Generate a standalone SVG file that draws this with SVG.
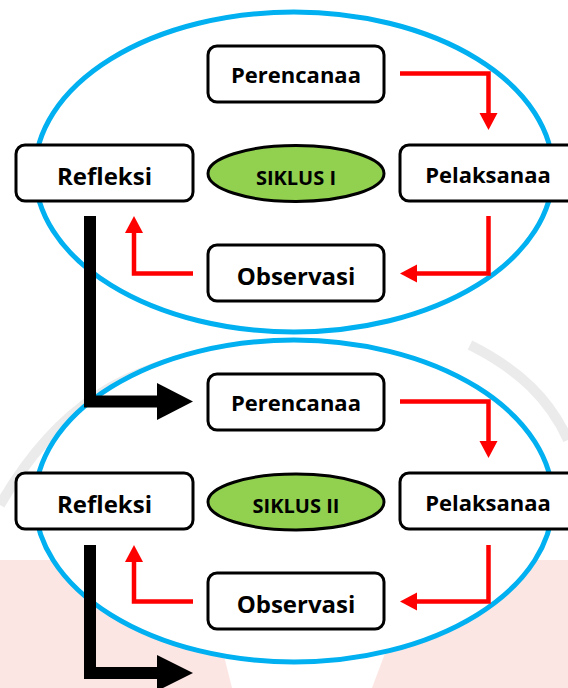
<svg xmlns="http://www.w3.org/2000/svg" width="568" height="688" viewBox="0 0 568 688">
  <style>
    .cycle { fill: #FFFFFF; stroke: #00B0F0; stroke-width: 5; }
    .box { fill: #FFFFFF; stroke: #000000; stroke-width: 3; }
    .hub { fill: #92D050; stroke: #000000; stroke-width: 3; }
    .lbl { font-family: "Open Sans", "Noto Sans", "Liberation Sans", sans-serif; font-weight: 700; fill: #000000; text-anchor: middle; }
    .red { fill: none; stroke: #FF0000; stroke-width: 4.5; stroke-linejoin: miter; }
    .redhead { fill: #FF0000; }
    .blk { fill: none; stroke: #000000; stroke-width: 12; stroke-linejoin: miter; }
    .blkhead { fill: #000000; }
  </style>
  <rect width="568" height="688" fill="#FFFFFF"/>
  <g id="watermark" opacity="0.5">
    <path d="M0,505 C60,400 130,370 200,355 M470,345 C520,370 550,400 568,440" fill="none" stroke="#D8D8D8" stroke-width="10"/>
    <polygon points="0,560 200,560 232,688 0,688" fill="#FBCFCB"/>
    <polygon points="372,688 420,560 568,560 568,688" fill="#FBCFCB"/>
  </g>
  <g id="cycle1"><ellipse class="cycle" cx="294" cy="172" rx="259" ry="160"/></g>
  <g id="cycle2"><ellipse class="cycle" cx="294" cy="501" rx="259" ry="161"/></g>

  <g id="perencanaan1"><rect class="box" x="208" y="46" width="176" height="56" rx="9"/><text class="lbl" x="296" y="83" font-size="22">Perencanaa</text></g>
  <g id="refleksi1"><rect class="box" x="16" y="145" width="177" height="56" rx="9"/><text class="lbl" x="104.5" y="185" font-size="24">Refleksi</text></g>
  <g id="siklus1"><ellipse class="hub" cx="296" cy="173.5" rx="88" ry="28"/><text class="lbl" x="296" y="185" font-size="20">SIKLUS I</text></g>
  <g id="pelaksanaan1"><rect class="box" x="400" y="145" width="185" height="56" rx="9"/><text class="lbl" x="488" y="183" font-size="22">Pelaksanaa</text></g>
  <g id="observasi1"><rect class="box" x="208" y="245" width="176" height="56" rx="9"/><text class="lbl" x="296" y="285" font-size="24">Observasi</text></g>

  <g id="perencanaan2"><rect class="box" x="208" y="374" width="176" height="56" rx="9"/><text class="lbl" x="296" y="411" font-size="22">Perencanaa</text></g>
  <g id="refleksi2"><rect class="box" x="16" y="473" width="177" height="56" rx="9"/><text class="lbl" x="104.5" y="513" font-size="24">Refleksi</text></g>
  <g id="siklus2"><ellipse class="hub" cx="296" cy="502" rx="88" ry="28"/><text class="lbl" x="296" y="513" font-size="20">SIKLUS II</text></g>
  <g id="pelaksanaan2"><rect class="box" x="400" y="473" width="185" height="56" rx="9"/><text class="lbl" x="488" y="511" font-size="22">Pelaksanaa</text></g>
  <g id="observasi2"><rect class="box" x="208" y="573" width="176" height="56" rx="9"/><text class="lbl" x="296" y="613" font-size="24">Observasi</text></g>

  <g id="connectors">
    <path class="red" d="M400,73.5 H488.5 V114"/>
    <polygon class="redhead" points="479.5,113 497.5,113 488.5,130"/>
    <path class="red" d="M488.5,216 V273.5 H416"/>
    <polygon class="redhead" points="417,264.5 417,282.5 400,273.5"/>
    <path class="red" d="M193,273.5 H134 V232"/>
    <polygon class="redhead" points="125,233 143,233 134,216"/>

    <path class="red" d="M400,401.5 H488.5 V442"/>
    <polygon class="redhead" points="479.5,441 497.5,441 488.5,458"/>
    <path class="red" d="M488.5,545 V601.5 H416"/>
    <polygon class="redhead" points="417,592.5 417,610.5 400,601.5"/>
    <path class="red" d="M193,601.5 H134 V561"/>
    <polygon class="redhead" points="125,562 143,562 134,545"/>

    <path class="blk" d="M90,216 V401.5 H158"/>
    <polygon class="blkhead" points="157,383 157,420 193,401.5"/>
    <path class="blk" d="M90,545 V673 H158"/>
    <polygon class="blkhead" points="157,655 157,691 193,673"/>
  </g>
</svg>
